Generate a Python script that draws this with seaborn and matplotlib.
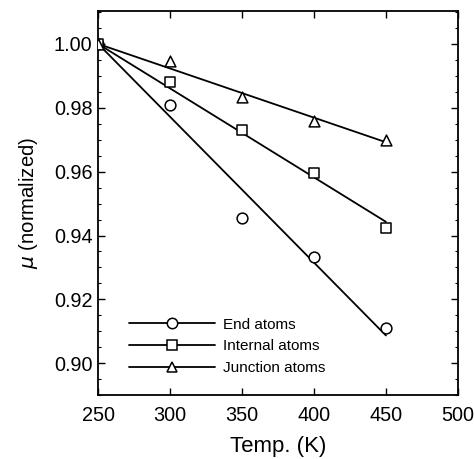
import numpy as np
import pandas as pd
import matplotlib
matplotlib.use('Agg')
import matplotlib.pyplot as plt
import seaborn as sns
from matplotlib.lines import Line2D
from matplotlib.ticker import MultipleLocator

temps = [250, 300, 350, 400, 450]
end_atoms = [1.000, 0.981, 0.9454, 0.9333, 0.9109]
internal_atoms = [1.000, 0.988, 0.9729, 0.9596, 0.9424]
junction_atoms = [1.000, 0.9945, 0.9835, 0.976, 0.9699]

labels = ['End atoms', 'Internal atoms', 'Junction atoms']
markers = ['o', 's', '^']

sns.set_style('ticks')
plt.rcParams['font.family'] = ['Liberation Sans', 'DejaVu Sans']
plt.rcParams['mathtext.fontset'] = 'dejavusans'
plt.rcParams['text.color'] = 'black'
plt.rcParams['axes.labelcolor'] = 'black'
plt.rcParams['xtick.color'] = 'black'
plt.rcParams['ytick.color'] = 'black'

fig = plt.figure(figsize=(4.74, 4.59), dpi=100)
ax = fig.add_axes([0.207, 0.139, 0.759, 0.837])

handles = []
for vals, lab, mk in zip([end_atoms, internal_atoms, junction_atoms], labels, markers):
    x = np.array(temps, dtype=float)
    y = np.array(vals)
    # linear fit pinned at the 250 K normalisation point
    dx = x - x[0]
    slope = np.sum(dx * (y - y[0])) / np.sum(dx ** 2)
    fit = pd.DataFrame({'temp': [x[0], x[-1]], 'mu': [y[0], y[0] + slope * dx[-1]]})
    sns.lineplot(data=fit, x='temp', y='mu', color='black', lw=1.3, ax=ax)
    df = pd.DataFrame({'temp': x, 'mu': y})
    sns.scatterplot(data=df, x='temp', y='mu', marker=mk, s=60, facecolor='white',
                    edgecolor='black', linewidth=1.1, zorder=3, ax=ax)
    handles.append(Line2D([], [], color='black', lw=1.3, marker=mk, markersize=7.5,
                          markerfacecolor='white', markeredgecolor='black',
                          markeredgewidth=1.1, label=lab))

ax.set_xlim(250, 500)
ax.set_ylim(0.89, 1.0103)
ax.set_xticks([250, 300, 350, 400, 450, 500])
ax.set_yticks([0.90, 0.92, 0.94, 0.96, 0.98, 1.00])
ax.set_yticklabels(['0.90', '0.92', '0.94', '0.96', '0.98', '1.00'])
ax.yaxis.set_minor_locator(MultipleLocator(0.005))
ax.tick_params(which='both', direction='in', top=True, right=True, labelsize=14.3)
ax.tick_params(which='major', length=5, width=1)
ax.tick_params(which='minor', length=2.5, width=0.8)
ax.tick_params(axis='x', pad=8)
ax.tick_params(axis='y', pad=4)
for sp in ax.spines.values():
    sp.set_linewidth(1.3)
    sp.set_color('black')

ax.set_xlabel('Temp. (K)', fontsize=16, labelpad=8)
ax.set_ylabel(r'$\mu$ (normalized)', fontsize=14.6, labelpad=10)

ax.legend(handles=handles, loc='lower left', bbox_to_anchor=(0.065, 0.033), frameon=False,
          fontsize=11, handlelength=5.6, handletextpad=0.55, labelspacing=0.5, borderpad=0)

fig.savefig('out.png', dpi=100)
